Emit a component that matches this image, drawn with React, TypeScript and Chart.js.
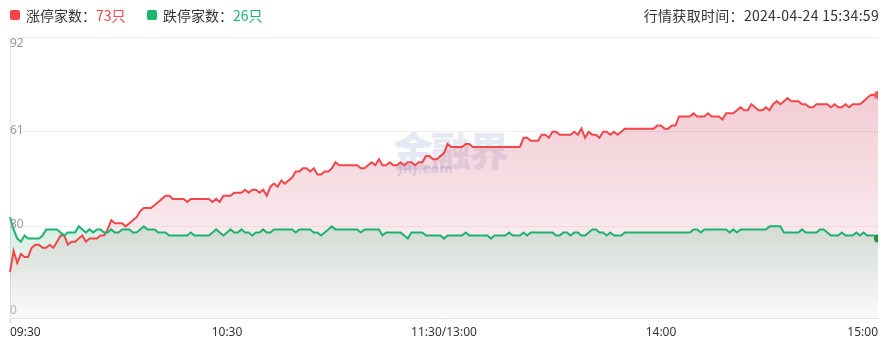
import { useEffect, useRef } from 'react';
import { Chart, registerables } from 'chart.js';
Chart.register(...registerables);

const RED = '#f4454b';
const GREEN = '#1db36f';

// trading minutes 09:30-11:30, 13:01-15:00
const morningStart = 9 * 60 + 30;
const afternoonStart = 13 * 60;
const pad = (n: number) => String(n).padStart(2, '0');
const fmt = (m: number) => `${pad(Math.floor(m / 60))}:${pad(m % 60)}`;
const categories: string[] = [];
for (let m = 0; m <= 120; m++) categories.push(fmt(morningStart + m));
for (let m = 1; m <= 120; m++) categories.push(fmt(afternoonStart + m));

const xTickIndex = [0, 60, 120, 180, 240];
const xTickLabels = ['09:30', '10:30', '11:30/13:00', '14:00', '15:00'];
const yTickValues = [0, 30, 61, 92];

const limitUp = [
  15, 22, 18, 21, 20, 20, 23, 24, 24, 23,
  23, 24, 23, 25, 27, 27, 24, 25, 25, 26,
  27, 25, 26, 26, 26, 27, 27, 29, 32, 31,
  31, 31, 30, 31, 32, 33, 35, 36, 36, 36,
  37, 38, 39, 40, 40, 39, 39, 39, 39, 38,
  39, 39, 39, 39, 39, 39, 38, 39, 38, 40,
  40, 40, 41, 41, 41, 42, 41, 42, 42, 41,
  42, 40, 43, 44, 43, 45, 44, 45, 46, 48,
  48, 49, 49, 48, 49, 47, 47, 48, 48, 49,
  51, 50, 50, 50, 50, 50, 50, 49, 49, 50,
  51, 50, 52, 50, 50, 51, 50, 50, 51, 50,
  51, 51, 50, 51, 51, 53, 53, 52, 52, 53,
  54, 57, 56, 56, 56, 56, 57, 57, 56, 56,
  56, 56, 56, 56, 56, 56, 56, 56, 56, 56,
  56, 56, 59, 59, 58, 58, 58, 60, 60, 59,
  61, 61, 60, 60, 60, 60, 61, 60, 62, 59,
  61, 60, 60, 59, 61, 61, 60, 61, 60, 61,
  62, 62, 62, 62, 62, 62, 62, 62, 62, 63,
  63, 62, 62, 63, 63, 66, 66, 66, 66, 67,
  66, 66, 66, 67, 66, 66, 66, 65, 67, 67,
  67, 68, 69, 68, 68, 70, 69, 68, 68, 69,
  68, 70, 71, 70, 71, 72, 71, 71, 71, 70,
  70, 69, 69, 70, 70, 70, 70, 69, 70, 69,
  69, 70, 69, 70, 70, 70, 71, 72, 73, 73,
  73,
];

const limitDown = [
  33, 29, 26, 25, 27, 26, 26, 26, 26, 27,
  29, 29, 29, 29, 28, 27, 28, 28, 28, 30,
  29, 28, 29, 28, 29, 29, 28, 28, 29, 28,
  28, 29, 29, 29, 28, 28, 29, 30, 29, 29,
  29, 28, 28, 28, 27, 27, 27, 27, 27, 27,
  28, 27, 27, 27, 27, 27, 28, 29, 28, 27,
  28, 29, 28, 28, 29, 28, 28, 27, 28, 28,
  29, 28, 28, 29, 29, 29, 29, 29, 29, 28,
  29, 29, 29, 29, 28, 28, 27, 28, 29, 30,
  29, 29, 29, 29, 29, 29, 29, 28, 29, 29,
  29, 29, 29, 27, 28, 28, 28, 28, 28, 27,
  26, 28, 28, 28, 28, 27, 27, 27, 27, 27,
  26, 27, 27, 27, 27, 27, 28, 27, 27, 27,
  27, 27, 27, 26, 27, 27, 27, 27, 28, 27,
  27, 27, 28, 27, 28, 28, 28, 28, 28, 28,
  28, 27, 27, 28, 28, 27, 28, 28, 27, 27,
  28, 29, 29, 28, 28, 27, 28, 27, 27, 27,
  28, 28, 28, 28, 28, 28, 28, 28, 28, 28,
  28, 28, 28, 28, 28, 28, 28, 28, 28, 29,
  29, 28, 29, 29, 29, 29, 29, 29, 29, 28,
  29, 28, 29, 29, 29, 29, 29, 29, 29, 29,
  30, 30, 30, 30, 28, 28, 28, 28, 28, 29,
  28, 28, 28, 28, 29, 29, 28, 27, 27, 27,
  28, 27, 27, 27, 28, 27, 28, 27, 27, 27,
  26,
];

const upCount = 73;
const downCount = 26;
const fetchTime = '2024-04-24 15:34:59';

const yLabelPlugin = {
  id: 'yLabels',
  afterDraw(chart: any) {
    const { ctx, chartArea, scales } = chart;
    const y = scales.y;
    ctx.save();
    ctx.font = '12px "Noto Sans"';
    ctx.textAlign = 'left';
    const maxV = yTickValues[yTickValues.length - 1];
    yTickValues.forEach((v) => {
      const py = y.getPixelForValue(v);
      if (v === maxV) {
        ctx.textBaseline = 'top';
        ctx.fillStyle = '#999';
        ctx.fillText(String(v), chartArea.left, py + 1);
      } else if (v === 0) {
        ctx.textBaseline = 'bottom';
        ctx.fillStyle = '#b5b5b5';
        ctx.fillText(String(v), chartArea.left, py - 1);
      } else {
        ctx.textBaseline = 'middle';
        ctx.fillStyle = '#999';
        ctx.fillText(String(v), chartArea.left, py - 1.5);
      }
    });
    ctx.restore();
  },
};

function gradient(chart: any, rgb: string, top: number, bottom: number) {
  const area = chart.chartArea;
  if (!area) return 'rgba(0,0,0,0)';
  const g = chart.ctx.createLinearGradient(0, area.top, 0, area.bottom);
  g.addColorStop(0, `rgba(${rgb},${top})`);
  g.addColorStop(1, `rgba(${rgb},${bottom})`);
  return g;
}

export default function App() {
  const ref = useRef<HTMLCanvasElement>(null);
  useEffect(() => {
    const last = categories.length - 1;
    const chart = new Chart(ref.current!, {
      type: 'line',
      data: {
        labels: categories,
        datasets: [
          {
            label: '跌停家数',
            data: limitDown,
            borderColor: GREEN,
            borderWidth: 2,
            tension: 0,
            fill: 'origin',
            backgroundColor: (c: any) => gradient(c.chart, '30,160,100', 0.52, 0.01),
            pointRadius: (c: any) => (c.dataIndex === last ? 4 : 0),
            pointBackgroundColor: '#23903a',
            pointBorderWidth: 0,
            clip: { left: 5, top: 5, right: 0, bottom: 5 } as any,
          },
          {
            label: '涨停家数',
            data: limitUp,
            borderColor: RED,
            borderWidth: 2,
            tension: 0,
            fill: 'origin',
            backgroundColor: (c: any) => gradient(c.chart, '205,60,90', 0.32, 0.02),
            pointRadius: (c: any) => (c.dataIndex === last ? 4 : 0),
            pointBackgroundColor: '#f25c5c',
            pointBorderWidth: 0,
            clip: { left: 5, top: 5, right: 0, bottom: 5 } as any,
          },
        ],
      },
      options: {
        animation: false,
        responsive: true,
        maintainAspectRatio: false,
        layout: { padding: { top: 37, left: 10, right: 15, bottom: 0 } },
        plugins: {
          legend: { display: false },
          tooltip: { enabled: false },
          filler: { drawTime: 'beforeDatasetsDraw' } as any,
        },
        scales: {
          x: {
            type: 'category',
            offset: false,
            grid: {
              color: (c: any) => (c.index === last ? '#e6e6e6' : 'rgba(0,0,0,0)'),
              tickColor: (c: any) => (xTickIndex.includes(c.index) ? '#d9d9d9' : 'rgba(0,0,0,0)'),
              tickLength: 5,
            } as any,
            border: { color: '#e3e3e3' },
            ticks: {
              autoSkip: false,
              maxRotation: 0,
              align: 'inner',
              padding: 2,
              color: '#333',
              font: { size: 12, family: '"Noto Sans"' },
              callback: (_v: any, idx: number) => {
                const k = xTickIndex.indexOf(idx);
                return k >= 0 ? xTickLabels[k] : null;
              },
            },
            afterFit: (s: any) => {
              s.height = 39;
            },
          },
          y: {
            type: 'linear',
            min: 0,
            max: 92,
            afterBuildTicks: (s: any) => {
              s.ticks = yTickValues.map((v) => ({ value: v }));
            },
            ticks: { display: false },
            grid: { color: '#f0f0f0', drawTicks: false },
            border: { display: true, color: '#e6e6e6' },
            afterFit: (s: any) => {
              s.width = 0;
            },
          },
        },
      },
      plugins: [yLabelPlugin],
    });
    return () => chart.destroy();
  }, []);

  const font = '"Noto Sans CJK SC", "Noto Sans", sans-serif';
  return (
    <div style={{ position: 'absolute', left: 0, top: 0, width: 893, height: 357, background: '#fff', fontFamily: font, overflow: 'hidden' }}>
      <div style={{ position: 'absolute', left: 393, top: 124, color: 'rgba(90,115,185,0.16)', fontSize: 40, fontWeight: 900, letterSpacing: -2, lineHeight: '50px', zIndex: 0 }}>
        金融界
      </div>
      <div style={{ position: 'absolute', left: 398, top: 161, color: 'rgba(90,115,185,0.2)', fontSize: 13, fontWeight: 700, fontFamily: '"DejaVu Sans", sans-serif', zIndex: 0 }}>
        JRJ.com
      </div>
      <div style={{ position: 'absolute', left: 0, top: 0, width: 893, height: 357, zIndex: 1 }}>
        <canvas ref={ref} />
      </div>
      <div style={{ position: 'absolute', left: 10, top: 10, width: 10, height: 10, borderRadius: 2, background: RED, zIndex: 2 }} />
      <div style={{ position: 'absolute', left: 26, top: 5, fontSize: 14, lineHeight: '20px', color: '#333', zIndex: 2, whiteSpace: 'nowrap' }}>
        涨停家数：<span style={{ color: RED }}>{upCount}只</span>
      </div>
      <div style={{ position: 'absolute', left: 147, top: 10, width: 10, height: 10, borderRadius: 2, background: GREEN, zIndex: 2 }} />
      <div style={{ position: 'absolute', left: 163, top: 5, fontSize: 14, lineHeight: '20px', color: '#333', zIndex: 2, whiteSpace: 'nowrap' }}>
        跌停家数：<span style={{ color: GREEN }}>{downCount}只</span>
      </div>
      <div style={{ position: 'absolute', right: 14, top: 5, fontSize: 14, lineHeight: '20px', color: '#333', zIndex: 2, whiteSpace: 'nowrap', letterSpacing: 0.3 }}>
        行情获取时间：{fetchTime}
      </div>
    </div>
  );
}
